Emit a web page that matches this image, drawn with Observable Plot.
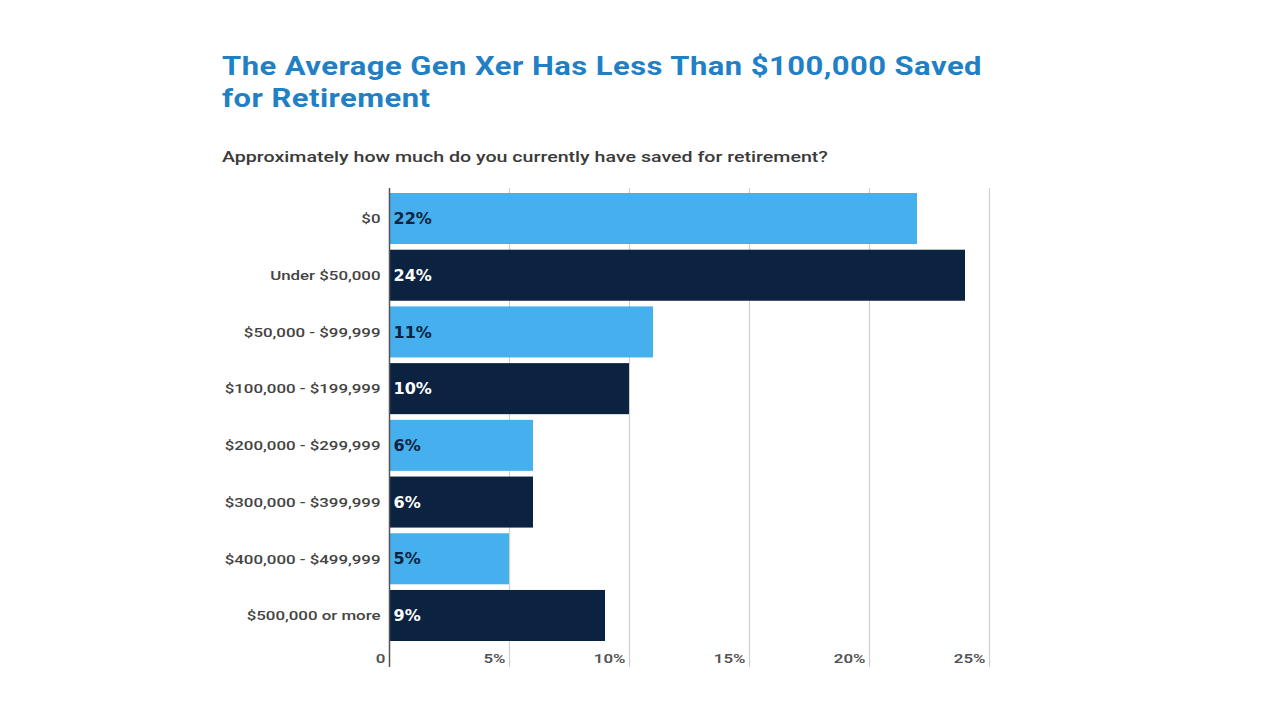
<!DOCTYPE html>
<html>
<head>
<meta charset="utf-8">
<script src="https://cdn.jsdelivr.net/npm/d3@7"></script>
<script src="https://cdn.jsdelivr.net/npm/@observablehq/plot@0.6"></script>
<style>
  html, body { margin: 0; padding: 0; background: #fff; width: 1280px; height: 720px; overflow: hidden; }
  #title { position: absolute; left: 222px; top: 50px; font-family: Roboto, sans-serif; font-weight: 700; font-size: 26px; line-height: 32px; color: #1f80c6; letter-spacing: 0.4px; margin: 0; white-space: nowrap; transform-origin: 0 0; transform: scaleX(1.19); }
  #subtitle { position: absolute; left: 222px; top: 148px; font-family: Roboto, sans-serif; font-weight: 500; font-size: 15.5px; color: #3a3a3a; margin: 0; white-space: nowrap; transform-origin: 0 0; transform: scaleX(1.265); }
  #chart { position: absolute; left: 0; top: 180px; }
</style>
</head>
<body>
<h1 id="title">The Average Gen Xer Has Less Than $100,000 Saved<br>for Retirement</h1>
<p id="subtitle">Approximately how much do you currently have saved for retirement?</p>
<div id="chart"></div>
<script>
const categories = ["$0", "Under $50,000", "$50,000 - $99,999", "$100,000 - $199,999", "$200,000 - $299,999", "$300,000 - $399,999", "$400,000 - $499,999", "$500,000 or more"];
const values = [22, 24, 11, 10, 6, 6, 5, 9];
const tones = ["light", "dark", "light", "dark", "light", "dark", "light", "dark"];
const xTicks = [0, 5, 10, 15, 20, 25];
const xTickLabels = ["0", "5%", "10%", "15%", "20%", "25%"];

const data = categories.map((c, i) => ({category: c, value: values[i], tone: tones[i]}));
const ticks = xTicks.map((t, i) => ({t, label: xTickLabels[i]}));

const chart = Plot.plot({
  width: 1280,
  height: 500,
  marginLeft: 389,
  marginRight: 291,
  marginTop: 8,
  marginBottom: 13,
  style: {fontFamily: "Roboto, sans-serif", background: "transparent"},
  x: {domain: [0, 25], axis: null},
  y: {domain: categories, range: [13, 461], paddingInner: 0.1, paddingOuter: 0, round: false, axis: null},
  color: {domain: ["light", "dark"], range: ["#45b0ed", "#0b2340"]},
  marks: [
    Plot.ruleX(xTicks.filter(d => d > 0), {stroke: "#d0d0d0", strokeWidth: 1.2}),
    Plot.barX(data, {y: "category", x: "value", fill: "tone"}),
    Plot.ruleX([0], {stroke: "#555", strokeWidth: 1.5}),
    Plot.axisY({label: null, tickSize: 0, tickPadding: 9, fontSize: 13.5, fontWeight: 500, fill: "#444", ariaDescription: "ylabels"}),
    Plot.text(data, {y: "category", x: 0, text: d => d.value + "%", textAnchor: "start", dx: 4, fontSize: 16, fontWeight: 700, fontFamily: "'DejaVu Sans', sans-serif", fill: d => d.tone === "light" ? "#0b2340" : "#ffffff"}),
    Plot.text(ticks, {x: "t", text: "label", frameAnchor: "bottom", textAnchor: "end", dx: -4, dy: -5, fontSize: 13.5, fontWeight: 600, fill: "#555", ariaDescription: "xlabels"})
  ]
});
// widen the label glyphs horizontally (anchored at their right end)
chart.querySelectorAll('g[aria-description="ylabels"] text, g[aria-description="xlabels"] text').forEach(t => {
  let tr = t.getAttribute("transform") || "";
  const x = t.getAttribute("x");
  if (x != null && !isNaN(+x)) {
    tr = `translate(${+x},0) ` + tr;
    t.removeAttribute("x");
  }
  t.setAttribute("transform", tr + " scale(1.25,1)");
});
document.getElementById("chart").appendChild(chart);
</script>
</body>
</html>
